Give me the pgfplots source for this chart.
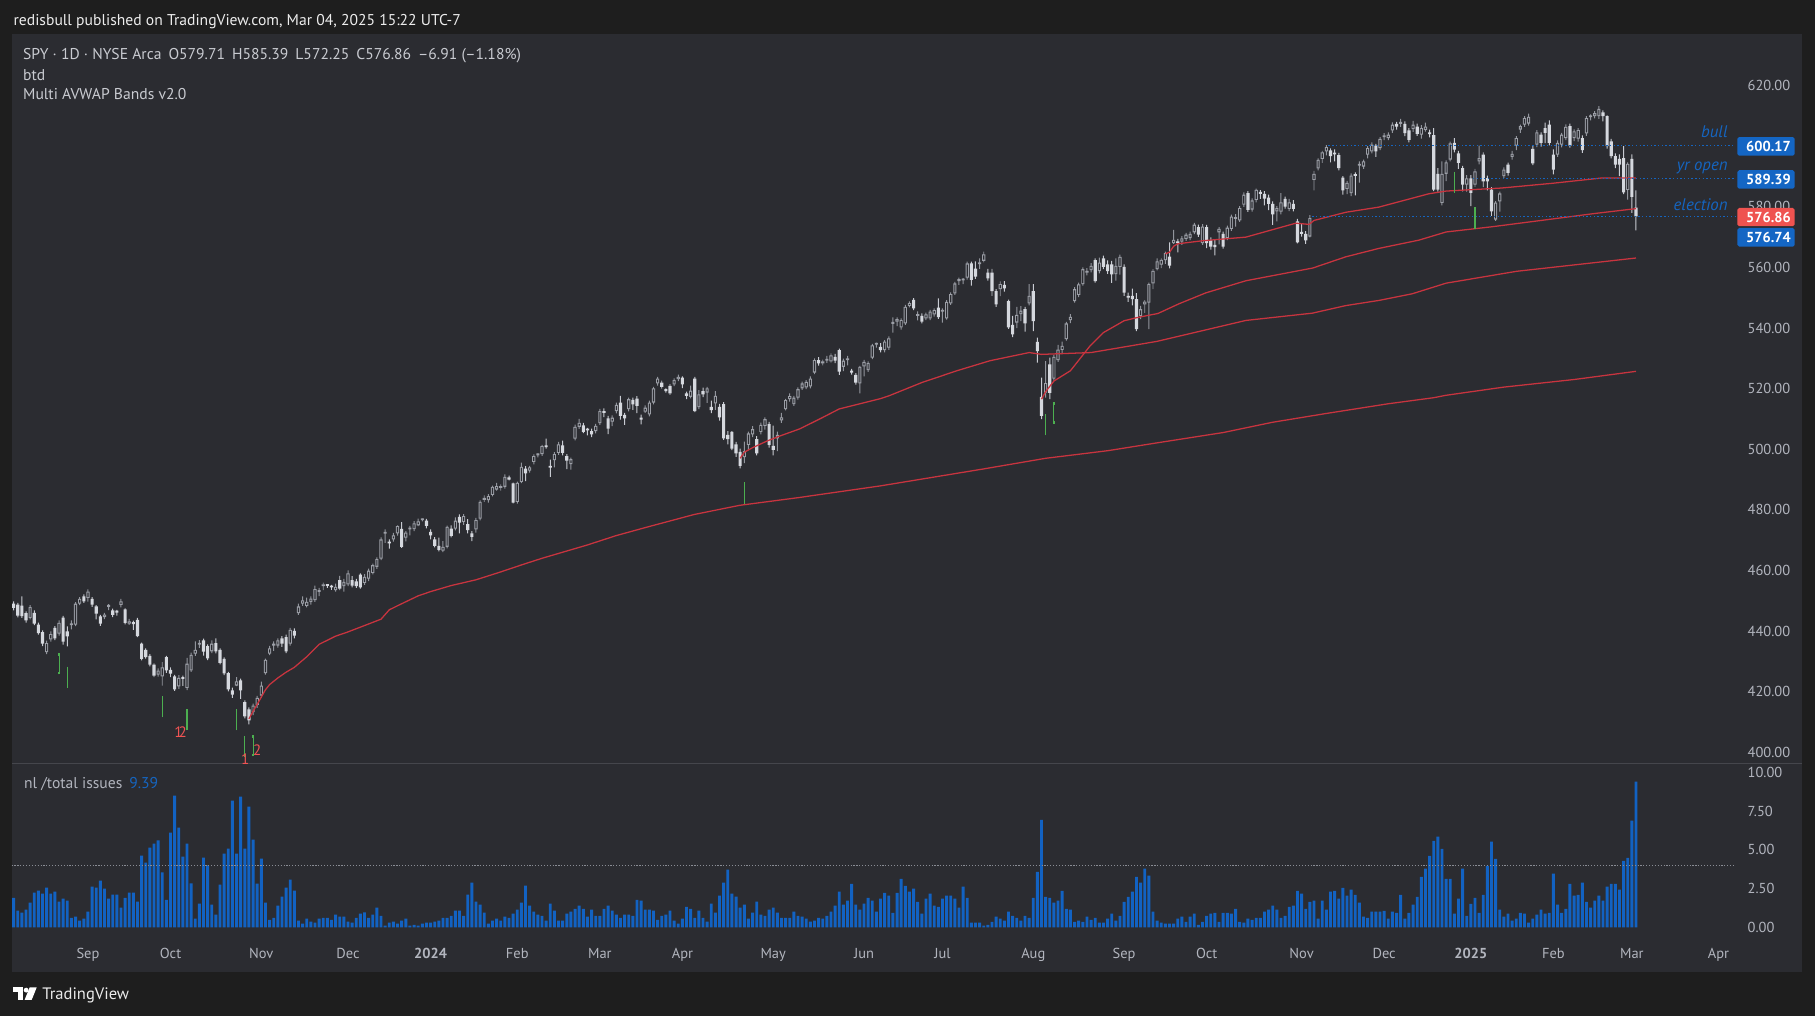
\documentclass[border=0pt]{standalone}
\usepackage{fontspec}
\setmainfont{PT Sans}
\newfontfamily\tickfont{PT Sans}
\usepackage{pgfplots}
\usepackage{pgfplotstable}
\pgfplotsset{compat=1.18}
\definecolor{outerbg}{HTML}{1E1E1E}
\definecolor{chartbg}{HTML}{2B2C31}
\definecolor{sepcol}{HTML}{45464C}
\definecolor{txt}{HTML}{B2B5BE}
\definecolor{hdr}{HTML}{EDEDED}
\definecolor{leg}{HTML}{C9CBD1}
\definecolor{bodydn}{HTML}{D5D8DE}
\definecolor{bodyup}{HTML}{9C9FA7}
\definecolor{wickdn}{HTML}{C8CBD2}
\definecolor{wickup}{HTML}{92959D}
\definecolor{avwap}{HTML}{C8343F}
\definecolor{tvblue}{HTML}{1565C0}
\definecolor{boxblue}{HTML}{1466C4}
\definecolor{boxred}{HTML}{EF5350}
\definecolor{barblue}{HTML}{1262C2}
\definecolor{mkgreen}{HTML}{4CAF50}
\definecolor{mkred}{HTML}{F05454}

\pgfplotstableread{
t o h l c
-18 449.0 449.8 446.8 447.6
-17 448.7 449.3 444.5 445.1
-16 448.4 451.4 444.3 444.9
-15 445.9 446.5 442.8 443.5
-14 444.3 448.5 443.8 447.9
-13 446.0 446.8 441.9 442.4
-12 442.1 442.8 438.8 439.3
-11 439.6 440.2 435.0 435.8
-10 433.0 436.8 432.4 436.0
-9 437.2 439.9 436.5 439.0
-8 441.0 441.6 437.0 437.6
-7 439.1 443.5 438.5 442.7
-6 444.4 445.0 435.5 436.5
-5 439.9 441.5 434.9 438.2
-4 441.9 443.5 440.5 442.4
-3 442.1 449.5 441.6 449.0
-2 449.0 451.2 448.5 450.6
-1 451.4 452.1 449.3 449.8
0 450.9 453.7 449.7 453.0
1 450.6 451.2 448.0 448.7
2 448.1 448.5 443.8 445.7
3 444.8 445.3 441.7 442.4
4 444.6 446.0 443.9 445.4
5 448.0 448.9 446.9 448.3
6 446.8 447.4 444.6 445.3
7 446.3 447.0 445.1 446.1
8 448.6 450.6 447.8 449.8
9 447.1 447.5 442.2 442.7
10 442.4 444.0 442.0 443.2
11 442.5 443.4 440.4 442.3
12 443.7 444.3 438.0 438.3
13 435.8 436.2 430.3 430.8
14 433.8 434.3 430.9 431.4
15 431.8 432.4 428.3 428.9
16 428.9 429.3 424.8 425.3
17 425.6 427.7 424.9 426.9
18 425.0 429.7 422.0 428.0
19 431.4 431.8 426.2 427.0
20 427.2 428.0 424.8 425.9
21 425.0 425.5 420.2 420.7
22 421.7 425.4 420.9 424.5
23 424.3 425.3 421.9 424.2
24 421.2 431.1 420.5 429.2
25 427.0 432.9 426.5 432.1
26 432.5 436.6 431.8 433.8
27 435.5 437.0 434.4 436.1
28 436.9 437.5 431.9 433.2
29 435.0 435.6 430.4 431.0
30 433.3 436.9 432.7 435.8
31 436.0 437.6 432.6 433.3
32 433.8 434.3 429.0 429.5
33 430.8 431.3 425.4 426.0
34 426.1 426.5 420.1 420.7
35 420.4 421.3 417.9 419.0
36 422.0 424.8 421.8 423.4
37 423.7 424.3 417.6 420.4
38 416.5 417.1 411.2 411.8
39 414.1 414.8 409.2 410.5
40 413.2 416.0 412.2 415.4
41 415.6 418.6 414.6 417.9
42 418.7 423.3 418.0 422.0
43 426.1 430.9 425.6 430.5
44 432.5 435.1 432.0 434.3
45 435.2 436.6 433.4 435.8
46 435.2 437.6 434.5 436.9
47 437.6 438.3 434.8 435.8
48 438.0 438.8 432.7 433.3
49 435.8 441.0 435.2 440.4
50 440.0 440.9 437.6 438.5
51 445.9 449.0 445.3 448.1
52 449.0 451.4 448.3 450.1
53 448.3 451.0 447.8 449.6
54 449.6 451.4 448.7 450.7
55 450.2 455.0 449.6 453.8
56 452.9 454.2 451.5 453.1
57 454.8 456.0 453.5 455.0
58 455.1 455.5 454.2 454.9
59 454.6 455.2 453.6 454.4
60 453.5 455.6 453.0 454.6
61 456.8 458.2 453.5 454.0
62 454.8 457.2 453.0 456.2
63 455.4 460.0 454.8 459.0
64 456.8 458.1 454.4 455.0
65 456.4 457.2 454.2 454.8
66 458.6 459.0 454.0 454.4
67 455.9 458.8 455.2 457.9
68 457.3 460.6 456.5 459.9
69 459.2 462.2 458.7 461.7
70 461.2 464.3 460.5 463.7
71 463.9 470.9 463.4 470.2
72 472.1 473.5 469.1 472.3
73 469.1 470.2 467.2 468.9
74 470.2 472.4 469.5 471.6
75 472.2 474.9 471.5 474.6
76 473.7 475.9 467.4 467.8
77 470.8 473.0 469.6 472.5
78 473.5 474.7 471.6 473.7
79 473.6 476.3 473.0 475.5
80 474.9 477.1 474.6 476.2
81 476.6 477.1 476.2 476.8
82 476.4 477.0 473.9 474.7
83 472.7 473.5 470.2 471.6
84 470.2 471.0 467.6 468.1
85 468.1 470.8 466.3 466.8
86 466.5 469.7 466.0 467.8
87 467.8 474.8 467.3 474.4
88 473.8 474.9 470.9 471.4
89 473.8 477.5 473.2 476.4
90 477.7 478.5 472.2 475.8
91 476.0 478.6 475.0 477.9
92 475.3 476.9 472.2 473.3
93 472.2 473.0 469.7 471.1
94 473.5 477.3 472.5 476.6
95 477.1 483.1 476.5 482.6
96 483.3 484.8 482.6 483.5
97 483.2 485.2 482.4 484.5
98 484.9 488.0 484.4 487.6
99 486.7 488.9 486.3 487.8
100 487.2 488.4 486.3 487.4
101 487.6 491.7 487.0 490.9
102 490.7 491.3 489.7 490.0
103 488.7 489.0 482.1 482.4
104 482.6 489.3 482.0 488.9
105 489.2 495.6 488.8 494.2
106 493.6 494.4 489.5 492.0
107 492.9 494.5 492.3 494.0
108 495.8 498.3 495.0 497.7
109 498.0 498.6 497.3 498.2
110 498.4 501.4 497.8 501.0
111 500.9 503.5 500.2 500.7
112 494.1 496.6 490.9 493.9
113 496.4 499.0 494.0 498.4
114 498.8 502.4 498.1 501.6
115 501.3 502.8 498.0 498.8
116 497.7 498.4 493.4 496.2
117 495.1 497.2 493.3 496.7
118 503.5 508.1 502.9 507.4
119 507.4 510.0 506.7 508.7
120 507.9 508.7 505.3 505.7
121 506.4 507.0 504.6 506.2
122 506.0 506.8 504.0 504.9
123 506.0 508.4 505.2 507.7
124 508.6 513.3 508.0 512.6
125 512.1 513.5 510.6 512.0
126 510.2 511.0 505.0 506.8
127 509.1 511.2 507.6 510.4
128 512.6 515.4 511.8 514.6
129 515.4 517.6 509.8 511.0
130 511.3 512.0 508.0 510.2
131 513.2 517.0 512.5 516.5
132 516.3 517.0 513.0 514.8
133 516.7 517.5 511.9 514.3
134 510.3 511.4 508.2 509.8
135 512.4 514.5 512.0 513.7
136 511.5 516.0 510.8 515.4
137 515.4 520.6 514.8 520.1
138 521.7 523.9 521.0 523.3
139 522.0 522.6 520.0 520.6
140 519.3 520.1 518.7 519.2
141 520.9 521.5 517.9 518.4
142 521.4 523.4 520.8 522.8
143 523.1 524.6 522.5 523.9
144 523.6 524.0 520.2 521.4
145 518.4 519.0 516.5 517.6
146 517.3 521.0 516.8 519.3
147 523.3 523.9 512.2 512.6
148 513.9 519.5 513.2 518.1
149 519.2 520.3 517.2 518.1
150 518.7 520.6 515.3 520.1
151 514.0 516.0 511.9 512.9
152 515.1 519.2 513.0 517.6
153 514.0 515.0 509.4 510.5
154 514.9 515.5 503.1 503.6
155 504.7 506.0 501.6 503.3
156 505.7 506.0 499.7 500.2
157 501.6 502.4 497.5 498.6
158 499.1 500.2 493.7 494.5
159 497.4 502.5 495.4 499.4
160 501.4 505.8 499.8 505.2
161 504.9 507.6 504.0 506.6
162 503.3 504.3 498.0 498.6
163 505.7 508.8 504.9 508.0
164 507.7 510.5 506.5 509.9
165 508.3 509.0 500.5 501.4
166 501.1 507.8 498.0 499.8
167 503.6 505.8 499.4 504.7
168 509.5 512.0 508.7 510.5
169 513.2 516.6 512.8 516.2
170 516.5 518.4 515.7 517.5
171 514.9 517.6 514.3 517.0
172 517.0 520.4 516.4 519.8
173 520.1 522.3 519.6 521.7
174 520.4 522.8 519.8 522.2
175 520.7 524.0 520.1 523.3
176 525.3 530.0 524.8 529.4
177 529.4 530.4 527.6 528.3
178 528.3 529.6 527.7 529.0
179 529.2 530.8 528.5 529.7
180 529.0 531.6 528.6 531.0
181 530.5 531.5 528.4 529.2
182 532.7 533.2 524.5 525.6
183 527.2 529.9 525.8 529.2
184 529.4 530.8 527.7 530.0
185 525.9 526.5 524.6 525.3
186 524.5 525.1 521.3 522.0
187 521.7 527.5 518.4 527.2
188 527.3 529.5 524.0 528.8
189 526.1 529.0 525.5 528.4
190 530.2 534.8 529.7 534.3
191 534.5 535.2 533.5 534.7
192 533.8 535.0 532.0 532.7
193 532.7 536.0 532.0 535.5
194 533.5 537.2 532.8 536.6
195 541.4 543.5 538.5 541.7
196 542.1 543.5 540.6 542.9
197 540.2 543.2 539.5 542.6
198 541.5 547.6 541.0 547.0
199 547.3 548.8 546.8 548.2
200 549.3 549.9 545.9 546.5
201 544.0 545.5 542.5 544.2
202 544.0 544.8 541.5 542.1
203 543.2 545.1 542.6 544.5
204 543.2 546.0 542.6 545.4
205 544.5 546.5 543.8 545.9
206 546.7 549.8 543.0 543.6
207 545.4 546.5 541.8 545.6
208 543.2 549.2 542.8 548.6
209 548.1 551.8 547.6 551.2
210 551.4 555.2 550.9 554.7
211 555.5 556.6 554.2 555.7
212 555.7 556.5 554.5 555.9
213 556.6 561.9 556.0 561.3
214 561.3 561.9 554.0 555.9
215 559.6 562.0 556.2 557.0
216 561.1 563.0 559.5 561.6
217 562.2 565.2 561.7 564.3
218 558.3 559.5 555.6 556.4
219 558.3 559.5 550.6 552.2
220 552.2 552.8 547.0 547.8
221 552.8 555.4 550.5 554.5
222 554.2 555.5 552.0 553.1
223 548.9 549.4 539.7 540.2
224 541.0 544.0 537.0 537.9
225 541.8 547.0 540.0 544.3
226 544.6 547.2 542.3 545.7
227 546.2 547.0 538.8 541.5
228 548.1 554.5 547.5 550.6
229 552.2 554.5 539.0 542.3
230 535.4 536.8 528.6 532.4
231 517.3 523.6 509.9 511.0
232 518.7 529.1 517.0 521.8
233 528.0 530.2 516.5 518.6
234 523.3 531.1 522.6 530.5
235 529.4 534.4 528.8 532.9
236 532.8 535.5 531.4 534.1
237 536.3 542.0 535.8 541.5
238 542.6 544.6 541.6 543.7
239 548.9 553.5 548.4 552.8
240 550.9 555.0 550.2 554.4
241 554.5 560.0 554.0 559.4
242 558.3 559.8 557.4 558.9
243 559.1 561.4 558.4 560.5
244 562.4 563.0 555.0 555.5
245 558.8 563.2 558.0 561.6
246 563.0 563.9 559.4 560.2
247 561.0 562.3 557.9 558.8
248 561.0 562.2 554.9 557.7
249 557.8 563.0 555.6 560.5
250 560.2 564.2 557.6 563.5
251 560.2 561.0 550.6 551.7
252 550.6 551.7 548.6 550.0
253 550.6 553.0 547.5 549.5
254 549.5 551.5 539.0 539.6
255 544.0 547.3 542.9 546.2
256 547.8 549.2 545.0 548.7
257 548.4 555.0 539.6 554.5
258 554.7 559.4 552.8 558.9
259 559.4 563.0 559.0 562.0
260 560.9 563.0 559.8 562.5
261 562.4 565.2 561.2 564.7
262 563.6 568.3 559.7 560.6
263 568.0 572.4 567.8 569.1
264 568.4 569.4 565.0 568.0
265 568.5 570.3 567.4 569.6
266 569.4 571.4 568.8 570.8
267 569.7 571.8 569.0 571.1
268 571.6 574.7 571.0 574.1
269 573.3 574.1 570.1 570.8
270 568.0 574.3 567.4 573.5
271 573.3 574.0 566.4 568.0
272 568.9 569.9 565.9 566.9
273 567.4 569.1 564.0 566.7
274 571.6 573.3 567.6 572.7
275 571.1 571.8 566.2 566.9
276 569.7 573.8 569.0 573.1
277 572.7 577.4 572.1 576.8
278 576.0 577.6 573.5 576.3
279 575.5 580.2 575.0 579.6
280 580.7 584.8 580.0 584.0
281 584.5 585.2 578.3 579.0
282 579.1 582.8 578.4 582.1
283 582.3 586.0 581.5 585.6
284 584.5 585.5 582.6 584.3
285 584.3 585.2 580.5 582.7
286 583.0 584.0 578.9 581.0
287 581.0 581.8 574.0 577.5
288 578.5 580.2 575.2 579.6
289 578.4 584.5 577.5 581.5
290 582.6 583.4 579.4 580.1
291 579.3 582.6 578.6 581.5
292 581.0 582.2 578.5 579.3
293 575.2 576.0 567.9 568.3
294 571.3 574.6 570.2 571.1
295 571.1 572.0 567.8 568.9
296 570.2 577.3 569.9 576.3
297 588.9 591.9 585.4 590.9
298 592.7 596.0 592.0 595.5
299 595.8 598.5 594.5 598.0
300 598.3 600.4 597.0 599.7
301 598.6 599.3 594.7 596.7
302 597.5 599.0 595.0 597.3
303 597.1 597.8 592.0 592.8
304 589.6 590.1 584.0 585.4
305 585.9 588.6 584.2 587.9
306 584.5 591.0 583.5 590.3
307 590.5 591.4 583.8 590.2
308 593.6 595.0 588.0 593.8
309 593.3 595.6 592.5 595.0
310 597.2 600.0 596.0 599.4
311 598.3 601.3 597.6 600.5
312 600.2 600.8 596.5 598.3
313 599.4 603.0 598.7 602.4
314 603.0 604.3 602.0 603.5
315 602.7 604.6 602.0 603.8
316 605.2 607.9 604.4 607.1
317 607.4 608.0 605.5 606.5
318 607.4 609.0 606.4 607.7
319 607.4 608.2 603.3 604.3
320 605.2 606.0 601.3 602.1
321 605.7 608.4 604.7 607.1
322 606.5 607.5 603.4 604.1
323 603.8 607.0 602.5 606.0
324 605.4 607.8 604.8 606.5
325 604.2 605.5 602.9 604.0
326 603.7 606.0 585.2 585.7
327 590.9 592.8 585.0 585.7
328 581.3 595.0 580.5 590.9
329 590.9 595.3 588.5 594.7
330 595.6 601.5 595.0 600.9
331 601.1 602.7 598.0 598.9
332 597.6 598.5 592.5 594.5
333 592.8 593.5 585.1 587.3
334 587.3 590.5 585.0 589.4
335 589.4 590.5 580.2 584.6
336 587.3 592.5 586.6 591.7
337 595.0 600.2 594.0 596.1
338 597.2 598.0 586.5 588.4
339 589.5 590.3 585.4 588.4
340 585.7 586.5 577.0 578.5
341 575.8 581.9 575.4 581.4
342 581.8 585.0 578.4 584.4
343 590.1 593.0 589.5 592.3
344 593.9 594.6 590.3 591.2
345 596.5 598.5 595.6 597.5
346 600.2 603.3 598.7 602.7
347 605.5 607.1 604.4 606.6
348 607.1 609.9 606.4 609.3
349 607.5 610.8 606.8 609.7
350 599.1 600.0 593.8 594.3
351 600.5 605.3 599.7 604.6
352 603.8 604.6 599.9 601.1
353 606.0 607.8 601.0 604.4
354 607.1 608.5 600.3 601.1
355 597.2 599.0 590.7 592.3
356 597.2 601.9 596.5 601.1
357 600.5 604.4 599.6 603.8
358 602.7 607.2 602.0 606.4
359 606.6 607.5 599.5 600.2
360 602.7 605.6 601.7 604.9
361 602.5 606.0 601.5 605.3
362 602.7 603.6 597.8 598.7
363 604.2 609.9 603.4 609.3
364 609.6 610.5 608.5 609.8
365 609.9 611.6 609.2 610.9
366 609.9 613.2 609.0 612.3
367 611.2 611.8 608.2 609.9
368 609.9 610.2 599.2 600.0
369 601.6 602.4 596.0 596.7
370 596.7 597.6 592.8 593.9
371 595.8 597.3 590.1 593.9
372 596.1 600.0 584.2 584.8
373 585.6 594.7 582.4 594.2
374 595.8 597.3 578.0 583.3
375 579.71 585.39 572.25 576.86
}\candles

\pgfplotstableread{
t v
-18 1.91
-17 1.08
-16 0.95
-15 1.14
-14 1.59
-13 2.24
-12 2.37
-11 2.17
-10 2.56
-9 2.17
-8 2.30
-7 1.66
-6 1.85
-5 1.72
-4 0.62
-3 0.69
-2 0.43
-1 0.56
0 1.01
1 2.62
2 2.56
3 3.01
4 2.49
5 1.85
6 2.11
7 2.11
8 1.27
9 1.91
10 2.24
11 2.24
12 1.66
13 4.62
14 4.17
15 5.14
16 5.40
17 5.61
18 3.55
19 1.78
20 6.11
21 8.49
22 6.43
23 4.56
24 5.40
25 2.84
26 0.56
27 1.53
28 4.49
29 4.00
30 1.46
31 0.82
32 2.75
33 4.75
34 5.08
35 8.17
36 4.75
37 8.43
38 5.08
39 7.78
40 5.66
41 2.82
42 4.43
43 1.59
44 0.49
45 0.62
46 1.40
47 1.98
48 2.56
49 3.08
50 2.37
51 0.43
52 0.24
53 0.56
54 0.37
55 0.30
56 0.56
57 0.62
58 0.62
59 0.49
60 0.82
61 0.69
62 0.69
63 0.37
64 0.30
65 0.62
66 0.88
67 0.97
68 0.62
69 0.82
70 1.27
71 0.75
72 0.11
73 0.30
74 0.37
75 0.24
76 0.43
77 0.56
78 0.11
79 0.17
80 0.11
81 0.24
82 0.30
83 0.30
84 0.37
85 0.43
86 0.62
87 0.62
88 0.75
89 1.08
90 1.08
91 0.75
92 2.11
93 2.88
94 1.66
95 1.46
96 0.95
97 0.24
98 0.43
99 0.56
100 0.43
101 0.69
102 0.62
103 0.88
104 1.14
105 1.59
106 2.69
107 1.40
108 1.01
109 0.82
110 0.75
111 0.43
112 1.53
113 1.08
114 0.43
115 0.43
116 0.88
117 1.01
118 1.20
119 1.40
120 1.20
121 0.69
122 1.14
123 0.75
124 0.75
125 1.20
126 1.40
127 1.08
128 0.82
129 0.62
130 0.82
131 0.82
132 0.75
133 1.78
134 1.72
135 1.14
136 1.14
137 1.08
138 0.49
139 0.75
140 0.82
141 1.08
142 0.43
143 0.24
144 0.56
145 1.33
146 1.20
147 0.62
148 1.08
149 0.62
150 0.37
151 1.53
152 0.95
153 2.04
154 2.88
155 3.72
156 2.17
157 1.98
158 1.27
159 1.46
160 0.56
161 0.95
162 1.66
163 0.82
164 0.75
165 1.14
166 1.27
167 0.95
168 0.62
169 0.62
170 0.62
171 1.01
172 0.75
173 0.69
174 0.56
175 0.37
176 0.43
177 0.62
178 0.56
179 0.75
180 1.01
181 1.40
182 2.30
183 1.46
184 1.72
185 2.81
186 1.46
187 1.14
188 1.53
189 1.91
190 1.72
191 1.01
192 1.85
193 2.23
194 2.04
195 0.94
196 2.23
197 3.13
198 2.68
199 2.30
200 2.49
201 1.65
202 0.88
203 1.85
204 2.17
205 1.40
206 1.33
207 1.85
208 2.04
209 2.04
210 1.85
211 1.27
212 2.62
213 1.91
214 0.30
215 0.30
216 0.30
217 0.11
218 0.17
219 0.36
220 0.69
221 0.56
222 0.43
223 1.01
224 0.75
225 0.62
226 0.43
227 0.75
228 0.62
229 1.91
230 3.58
231 6.93
232 1.97
233 1.91
234 1.59
235 1.72
236 2.36
237 1.20
238 1.14
239 0.36
240 0.43
241 0.36
242 0.69
243 0.49
244 0.62
245 0.30
246 0.30
247 0.56
248 0.88
249 0.43
250 0.75
251 1.65
252 1.97
253 2.30
254 3.26
255 2.88
256 3.78
257 3.33
258 1.01
259 0.43
260 0.30
261 0.24
262 0.24
263 0.24
264 0.56
265 0.69
266 0.36
267 0.69
268 0.88
269 0.17
270 0.36
271 0.75
272 0.88
273 0.94
274 0.36
275 0.94
276 0.94
277 0.88
278 1.20
279 0.36
280 0.30
281 0.56
282 0.49
283 0.62
284 0.62
285 1.01
286 1.14
287 1.40
288 1.14
289 0.62
290 0.75
291 1.33
292 1.40
293 2.36
294 2.17
295 1.20
296 1.65
297 1.72
298 0.56
299 1.72
300 1.14
301 2.30
302 2.36
303 1.85
304 2.55
305 2.04
306 2.43
307 2.10
308 1.59
309 0.69
310 0.62
311 1.01
312 1.01
313 1.01
314 1.07
315 0.56
316 1.01
317 0.94
318 2.10
319 0.56
320 0.94
321 1.46
322 1.97
323 3.26
324 3.78
325 4.61
326 5.58
327 5.84
328 5.06
329 3.13
330 3.13
331 0.88
332 1.85
333 3.78
334 0.75
335 1.52
336 1.91
337 0.94
338 2.10
339 3.97
340 5.52
341 4.42
342 1.14
343 0.69
344 0.88
345 0.43
346 0.56
347 0.94
348 0.88
349 0.30
350 0.56
351 0.82
352 1.14
353 0.88
354 0.94
355 3.46
356 1.46
357 0.94
358 1.20
359 2.81
360 2.04
361 2.10
362 2.88
363 1.65
364 1.27
365 1.72
366 2.04
367 1.72
368 2.62
369 2.81
370 2.81
371 2.43
372 4.29
373 4.48
374 6.87
375 9.39
}\issues

\pgfplotsset{
  tvtick/.style={font=\tickfont\fontsize{12.5}{14}\selectfont, text=txt, inner sep=0pt},
}

\begin{document}
\begin{tikzpicture}[x=1pt,y=1pt]
\fill[outerbg] (0,0) rectangle (1568.4,878);
\useasboundingbox (0,0) rectangle (1568.4,878);
\fill[chartbg] (10.2,38.3) rectangle (1557,849);

% ---------- candle wicks ----------
\begin{axis}[at={(10pt,219pt)}, anchor=south west, scale only axis, width=1490pt, height=630pt,
  xmin=-18.5, xmax=399.2, ymin=396.56, ymax=637.19, hide axis, ybar stacked]
\addplot[draw=none, fill=none, bar width=0.85pt] table[x=t, y=l] {\candles};
\addplot[draw=none, fill=wickup, bar width=0.85pt]
  table[x=t, y expr={\thisrow{c}>=\thisrow{o} ? \thisrow{h}-\thisrow{l} : 0}] {\candles};
\addplot[draw=none, fill=wickdn, bar width=0.85pt]
  table[x=t, y expr={\thisrow{c}<\thisrow{o} ? \thisrow{h}-\thisrow{l} : 0}] {\candles};
\end{axis}

% ---------- candle bodies ----------
\begin{axis}[at={(10pt,219pt)}, anchor=south west, scale only axis, width=1490pt, height=630pt,
  xmin=-18.5, xmax=399.2, ymin=396.56, ymax=637.19, hide axis, ybar stacked]
\addplot[draw=none, fill=none, bar width=2.7pt]
  table[x=t, y expr={min(\thisrow{o},\thisrow{c})}] {\candles};
\addplot[draw=none, fill=bodydn, bar width=2.7pt]
  table[x=t, y expr={\thisrow{c}<\thisrow{o} ? max(\thisrow{o}-\thisrow{c},0.6) : 0}] {\candles};
\addplot[draw=none, fill=bodyup, bar width=2.7pt]
  table[x=t, y expr={\thisrow{c}>=\thisrow{o} ? max(\thisrow{c}-\thisrow{o},0.6) : 0}] {\candles};
\end{axis}

% ---------- hollow cut-outs of rising candles ----------
\begin{axis}[at={(10pt,219pt)}, anchor=south west, scale only axis, width=1490pt, height=630pt,
  xmin=-18.5, xmax=399.2, ymin=396.56, ymax=637.19, hide axis, ybar stacked]
\addplot[draw=none, fill=none, bar width=1.0pt]
  table[x=t, y expr={min(\thisrow{o},\thisrow{c})+0.35}] {\candles};
\addplot[draw=none, fill=chartbg, bar width=1.0pt]
  table[x=t, y expr={\thisrow{c}>=\thisrow{o} ? max(\thisrow{c}-\thisrow{o}-0.7,0) : 0}] {\candles};
\end{axis}

% ---------------- main pane: lines, labels ----------------
\begin{axis}[at={(10pt,219pt)}, anchor=south west, scale only axis, width=1490pt, height=630pt,
  xmin=-18.5, xmax=399.2, ymin=396.56, ymax=637.19,
  axis line style={draw=none}, major tick length=0pt,
  xtick=\empty,
  ytick={400,420,440,460,480,500,520,540,560,580,600,620},
  yticklabels={400.00,420.00,440.00,460.00,480.00,500.00,520.00,540.00,560.00,580.00,600.00,620.00},
  yticklabel pos=right,
  yticklabel style={tvtick, anchor=west, xshift=10pt},
]
% AVWAP lines
\addplot[avwap, line width=1.1pt, mark=none] table {
t p
39 411.0
40 413.5
41 415.8
42 418.2
43 420.6
44 422.3
46 424.5
48 426.4
50 428.0
53 431.5
56 435.6
60 438.3
63 439.7
67 441.8
71 443.9
73 447.0
76 449.0
80 451.6
83 453.0
88 455.0
94 456.9
100 459.5
105 461.8
110 464.0
115 466.0
121 468.4
128 471.5
136 474.5
147 478.5
158 481.5
172 484.0
192 487.9
217 493.5
232 497.0
247 499.5
259 502.1
275 505.5
287 508.9
300 511.8
315 515.0
326 517.0
329 517.8
343 520.5
360 523.0
375 525.7
};
\addplot[avwap, line width=1.1pt, mark=none] table {
t p
158 497.0
159 499.0
161 500.5
164.5 502.7
167.7 504.4
172.4 506.7
177.3 510.0
182 513.3
192 516.7
194 517.6
202 522.0
210.5 525.9
218.5 529.2
228 531.9
231 531.3
243 531.9
259 535.6
280.5 542.5
296.6 544.9
304.7 547.4
312.7 549.1
320.8 551.3
329 554.8
346 558.7
375 563.1
};
\addplot[avwap, line width=1.1pt, mark=none] table {
t p
231 516.5
232 519.0
234 522.5
238 525.9
242.7 534.0
246 538.5
251 542.4
254 543.4
259.2 544.8
264.3 548.0
270.8 551.6
280.5 555.6
296.7 559.8
304.7 563.5
312.8 566.3
322.4 569.0
329 571.7
340 573.4
352 575.5
365 577.8
375 579.4
};
\addplot[avwap, line width=1.1pt, mark=none] table {
t p
261 564.5
262 565.0
263 567.0
264 567.8
270 568.8
280.5 570.0
292.6 574.6
295.8 574.2
297 575.5
304.7 578.2
312.7 579.9
324.8 584.3
329 585.2
342.4 586.2
355 587.8
366.6 589.5
375 589.5
};

% dotted level lines
\addplot[tvblue, line width=1pt, dash pattern=on 1.2pt off 2pt] coordinates {(300.5,600.17) (399.2,600.17)};
\addplot[tvblue, line width=1pt, dash pattern=on 1.2pt off 2pt] coordinates {(335.5,589.39) (399.2,589.39)};
\addplot[tvblue, line width=1pt, dash pattern=on 1.2pt off 2pt] coordinates {(296.6,576.74) (399.2,576.74)};

% green markers
\addplot[draw=none, mark=none, error bars/y dir=both, error bars/y explicit,
  error bars/error mark options={mkgreen, line width=1pt, mark size=1.1pt},
  error bars/error bar style={mkgreen, line width=0.9pt}]
  coordinates {
  (-7,429.15) +- (0,3.05)
  (-5,424.75) +- (0,3.05)
  (18,415.0) +- (0,3.1)
  (24,410.7) +- (0,3.0)
  (36,410.7) +- (0,3.05)
  (38,401.9) +- (0,3.05)
  (40,402.1) +- (0,3.05)
  (159,485.55) +- (0,3.05)
  (232,508.1) +- (0,3.1)
  (234,512.0) +- (0,3.1)
  (331,588.15) +- (0,3.05)
  (336,576.3) +- (0,3.1)
  };
\end{axis}

% pane separator
\draw[sepcol, line width=1pt] (10.2,218.5) -- (1557,218.5);

% ---------------- lower pane ----------------
\begin{axis}[
  at={(10pt,66pt)}, anchor=south west, scale only axis,
  width=1490pt, height=152pt,
  xmin=-18.5, xmax=399.2, ymin=-0.79, ymax=10.54,
  axis line style={draw=none}, major tick length=0pt,
  xtick={0,20,42,63,83,104,124,144,166,188,207,229,251,271,294,314,335,355,374,395},
  xticklabels={Sep,Oct,Nov,Dec,\textbf{2024},Feb,Mar,Apr,May,Jun,Jul,Aug,Sep,Oct,Nov,Dec,\textbf{2025},Feb,Mar,Apr},
  xticklabel style={tvtick, anchor=base, yshift=-16.5pt},
  ytick={0,2.5,5,7.5,10},
  yticklabels={0.00,2.50,5.00,7.50,10.00},
  yticklabel pos=right,
  yticklabel style={tvtick, anchor=west, xshift=10pt},
]
\addplot[ybar, bar width=2.5pt, fill=barblue, draw=none] table[x=t, y=v] {\issues};
\addplot[color=txt!70!chartbg, line width=0.7pt, dash pattern=on 1pt off 1.5pt] coordinates {(-18.5,4) (399.2,4)};
\end{axis}

% ---------------- texts ----------------
\node[anchor=base west, inner sep=0pt, text=hdr, font=\fontsize{13.5}{15}\selectfont] at (11.6,855.8)
  {redisbull published on TradingView.com, Mar 04, 2025 15:22 UTC-7};
\node[anchor=base west, inner sep=0pt, text=leg, font=\fontsize{13.5}{15}\selectfont] at (19.8,826.7)
  {SPY · 1D · NYSE Arca\hspace{6pt}O579.71\hspace{6pt}H585.39\hspace{6pt}L572.25\hspace{6pt}C576.86\hspace{6pt}–6.91 (–1.18\%)};
\node[anchor=base west, inner sep=0pt, text=leg, font=\fontsize{13.5}{15}\selectfont] at (19.8,808.3) {btd};
\node[anchor=base west, inner sep=0pt, text=leg, font=\fontsize{13.5}{15}\selectfont] at (19.8,791.6) {Multi AVWAP Bands v2.0};
\node[anchor=base west, inner sep=0pt, text=txt, font=\fontsize{13.5}{15}\selectfont] at (20.6,196.4)
  {nl /total issues\hspace{6pt}\textcolor{tvblue}{9.39}};

% red pivot numbers
\node[text=mkred, font=\fontsize{13}{15}\selectfont, inner sep=0pt] at (154.3,245.3) {1};
\node[text=mkred, font=\fontsize{13}{15}\selectfont, inner sep=0pt] at (158.0,245.3) {2};
\node[text=mkred, font=\fontsize{13}{15}\selectfont, inner sep=0pt] at (212.0,221.7) {1};
\node[text=mkred, font=\fontsize{13}{15}\selectfont, inner sep=0pt] at (222.2,229.8) {2};

% level labels
\node[anchor=base east, inner sep=0pt, text=tvblue, font=\itshape\fontsize{14.5}{16}\selectfont] at (1493,758.8) {bull};
\node[anchor=base east, inner sep=0pt, text=tvblue, font=\itshape\fontsize{14.5}{16}\selectfont] at (1493,730.8) {yr open};
\node[anchor=base east, inner sep=0pt, text=tvblue, font=\itshape\fontsize{14.5}{16}\selectfont] at (1493,696.3) {election};

% price boxes
\fill[boxblue, rounded corners=1.5pt] (1501.3,743.5) rectangle (1550.8,759.6);
\node[text=white, font=\tickfont\bfseries\fontsize{12.5}{14}\selectfont, inner sep=0pt] at (1528.2,751.5) {600.17};
\fill[boxblue, rounded corners=1.5pt] (1501.3,715.0) rectangle (1550.8,730.9);
\node[text=white, font=\tickfont\bfseries\fontsize{12.5}{14}\selectfont, inner sep=0pt] at (1528.2,723.0) {589.39};
\fill[boxred, rounded corners=1.5pt] (1501.3,682.5) rectangle (1550.8,698.3);
\node[text=white, font=\tickfont\bfseries\fontsize{12.5}{14}\selectfont, inner sep=0pt] at (1528.2,690.4) {576.86};
\fill[boxblue, rounded corners=1.5pt] (1501.3,664.9) rectangle (1550.8,681.0);
\node[text=white, font=\tickfont\bfseries\fontsize{12.5}{14}\selectfont, inner sep=0pt] at (1528.2,673.0) {576.74};

% TradingView logo
\fill[white] (11.5,24.7) rectangle (19.6,20.6);
\fill[white] (15.6,20.6) rectangle (19.6,14.0);
\fill[white] (22.6,22.4) circle (2.1);
\fill[white] (25.6,24.7) -- (31.7,24.7) -- (27.4,14.0) -- (21.3,14.0) -- cycle;
\node[anchor=base west, inner sep=0pt, text=white!92!black, font=\fontsize{14.3}{16}\selectfont] at (36.4,14.0) {TradingView};
\end{tikzpicture}
\end{document}
